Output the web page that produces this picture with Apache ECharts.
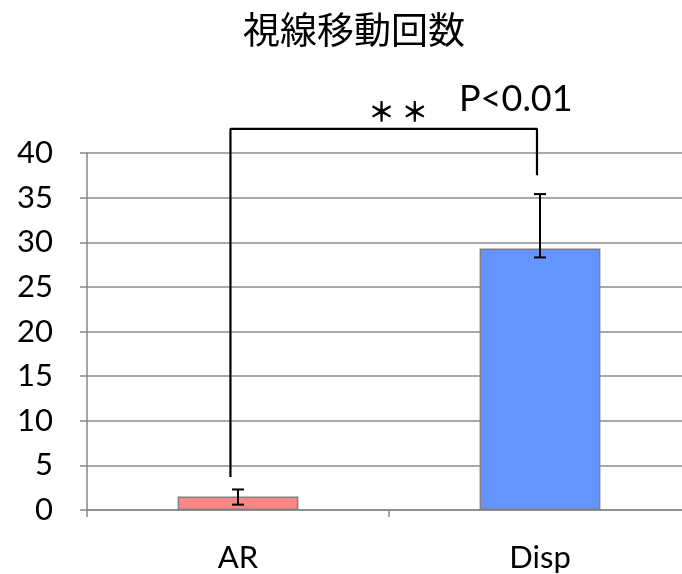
<!DOCTYPE html>
<html>
<head>
<meta charset="utf-8">
<script src="https://cdn.jsdelivr.net/npm/echarts@6/dist/echarts.min.js"></script>
<style>
html,body{margin:0;padding:0;background:#fff;}
#chart{width:682px;height:574px;}
</style>
</head>
<body>
<div id="chart"></div>
<script>
// ---- data ----
var categories = ['AR', 'Disp'];
var meanValues = [1.5, 29.3];
var errLow = [0.6, 28.3];
var errHigh = [2.3, 35.4];
var barColors = ['#FF8585', '#6495FF'];
var yTicks = [0, 5, 10, 15, 20, 25, 30, 35, 40];
// significance bracket (x in category-position units 0..2, y in data units)
var bracketX = [0.475, 0.475, 1.49, 1.49];
var bracketY = [3.7, 42.7, 42.7, 37.5];
var titleText = '視線移動回数';
var sigStars = '＊ ＊';
var sigText = 'P<0.01';

var FONT = 'Lato, "Noto Sans CJK JP", sans-serif';
var chart = echarts.init(document.getElementById('chart'));

var option = {
  animation: false,
  backgroundColor: '#ffffff',
  title: {
    text: titleText,
    left: 238,
    top: 6,
    textStyle: { fontFamily: '"Noto Sans CJK JP", sans-serif', fontSize: 37, fontWeight: 'normal', color: '#000' }
  },
  grid: { left: 87, width: 604, top: 153, bottom: 64, containLabel: false, outerBoundsMode: 'none' },
  xAxis: [
    {
      type: 'category',
      data: categories,
      axisLine: { lineStyle: { color: '#868686', width: 1.5 } },
      axisTick: { show: true, length: 7, alignWithLabel: false, lineStyle: { color: '#868686', width: 1.5 } },
      axisLabel: { color: '#000', fontSize: 31, fontFamily: FONT, margin: 33 },
      splitLine: { show: false }
    },
    {
      type: 'value', min: 0, max: 2, show: false
    }
  ],
  yAxis: {
    type: 'value',
    min: yTicks[0],
    max: yTicks[yTicks.length - 1],
    interval: 5,
    axisLine: { show: true, lineStyle: { color: '#868686', width: 1.5 } },
    axisTick: { show: true, inside: false, length: 7, lineStyle: { color: '#868686', width: 1.5 } },
    axisLabel: { color: '#000', fontSize: 31, fontFamily: FONT, margin: 34 },
    splitLine: { show: true, lineStyle: { color: '#8c8c8c', width: 1.5 } }
  },
  series: [
    {
      type: 'bar',
      barWidth: '40%',
      data: meanValues.map(function (v, i) {
        return { value: v, itemStyle: { color: barColors[i], borderColor: '#808080', borderWidth: 1.5 } };
      }),
      z: 2
    },
    {
      type: 'custom',
      z: 5,
      data: categories.map(function (c, i) { return [i, errLow[i], errHigh[i]]; }),
      renderItem: function (params, api) {
        var x = api.value(0);
        var lo = api.coord([x, api.value(1)]);
        var hi = api.coord([x, api.value(2)]);
        var cap = 6;
        var st = { stroke: '#000', lineWidth: 2 };
        return {
          type: 'group',
          children: [
            { type: 'line', shape: { x1: lo[0], y1: lo[1], x2: hi[0], y2: hi[1] }, style: st },
            { type: 'line', shape: { x1: lo[0] - cap, y1: lo[1], x2: lo[0] + cap, y2: lo[1] }, style: st },
            { type: 'line', shape: { x1: hi[0] - cap, y1: hi[1], x2: hi[0] + cap, y2: hi[1] }, style: st }
          ]
        };
      }
    },
    {
      type: 'line',
      xAxisIndex: 1,
      clip: false,
      symbol: 'none',
      z: 6,
      lineStyle: { color: '#000', width: 2.2 },
      data: bracketX.map(function (x, i) { return [x, bracketY[i]]; })
    }
  ],
  graphic: [
    {
      type: 'text', left: 368, top: 98,
      style: { text: sigStars, font: 'bold 27px "Noto Sans CJK JP", sans-serif', fill: '#000' }
    },
    {
      type: 'text', left: 459, top: 81,
      style: { text: sigText, font: '36px Lato, sans-serif', fill: '#000' }
    }
  ]
};
chart.setOption(option);
</script>
</body>
</html>
